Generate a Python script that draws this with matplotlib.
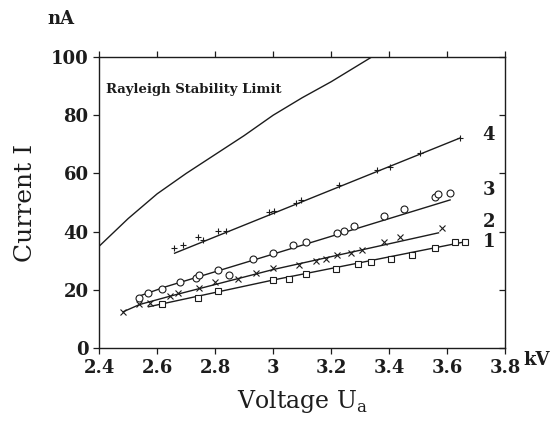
import matplotlib
matplotlib.use('Agg')
import matplotlib.pyplot as plt

plt.rcParams['font.family'] = 'DejaVu Serif'

# Rayleigh stability limit
ray_u = [2.4, 2.5, 2.6, 2.7, 2.8, 2.9, 3.0, 3.1, 3.2, 3.34]
ray_i = [35, 44.5, 53, 60, 66.5, 73, 80, 86, 91.5, 100]

# series 1 (squares)
s1_u = [2.615, 2.74, 2.809, 3.0, 3.055, 3.112, 3.215, 3.293, 3.339, 3.407, 3.478, 3.558, 3.627, 3.661]
s1_i = [15.0, 17.3, 19.7, 23.4, 23.9, 25.3, 27.3, 28.8, 29.7, 30.6, 32.0, 34.5, 36.5, 36.5]
fit1_u = [2.57, 3.0, 3.66]
fit1_i = [14.2, 23.4, 36.5]

# series 2 (crosses)
s2_u = [2.483, 2.538, 2.575, 2.644, 2.672, 2.746, 2.798, 2.878, 2.941, 3.0, 3.09, 3.147, 3.181, 3.221, 3.267, 3.307, 3.381, 3.438, 3.581]
s2_i = [12.5, 15.0, 15.4, 18.0, 18.8, 20.7, 22.6, 23.6, 25.7, 27.4, 28.5, 29.9, 30.6, 32.0, 32.7, 33.7, 36.5, 38.2, 41.1]
fit2_u = [2.483, 2.54, 2.65, 3.0, 3.57]
fit2_i = [12.5, 15.0, 18.0, 27.0, 39.6]

# series 3 (circles)
s3_u = [2.538, 2.569, 2.618, 2.678, 2.735, 2.745, 2.809, 2.849, 2.93, 3.0, 3.07, 3.112, 3.221, 3.244, 3.278, 3.381, 3.45, 3.558, 3.57, 3.61]
s3_i = [17.3, 18.8, 20.3, 22.6, 24.2, 25.0, 26.8, 25.1, 30.6, 32.8, 35.5, 36.5, 39.4, 40.3, 42.0, 45.5, 47.8, 52.0, 52.8, 53.2]
fit3_u = [2.53, 2.63, 3.0, 3.61]
fit3_i = [17.6, 21.1, 32.3, 50.9]

# series 4 (plus)
s4_u = [2.657, 2.689, 2.741, 2.758, 2.809, 2.838, 2.987, 3.004, 3.078, 3.095, 3.227, 3.358, 3.404, 3.507, 3.644]
s4_i = [34.3, 35.4, 38.3, 37.3, 40.2, 40.3, 46.8, 47.2, 49.7, 50.9, 56.0, 61.2, 62.3, 66.9, 72.1]
fit4_u = [2.66, 3.645]
fit4_i = [32.6, 72.2]

curve_labels = ['1', '2', '3', '4']
label_i = [36.4, 43.3, 54.3, 73.2]

fig = plt.figure(figsize=(5.57, 4.22), dpi=100)
ax = fig.add_axes([0.178, 0.175, 0.729, 0.69])

lc = '#1c1c1c'
ax.plot(ray_u, ray_i, color=lc, lw=1.0)
ax.plot(fit1_u, fit1_i, color=lc, lw=1.0)
ax.plot(fit2_u, fit2_i, color=lc, lw=1.0)
ax.plot(fit3_u, fit3_i, color=lc, lw=1.0)
ax.plot(fit4_u, fit4_i, color=lc, lw=1.0)

ax.plot(s1_u, s1_i, 's', ms=4.5, mfc='white', mec=lc, mew=0.8, ls='none')
ax.plot(s2_u, s2_i, 'x', ms=4.5, color=lc, mew=0.8, ls='none')
ax.plot(s3_u, s3_i, 'o', ms=5, mfc='white', mec=lc, mew=0.8, ls='none')
ax.plot(s4_u, s4_i, '+', ms=4, color=lc, mew=0.8, ls='none')

for lab, yi in zip(curve_labels, label_i):
    ax.text(3.765, yi, lab, fontsize=13, fontweight='bold', ha='right', va='center', color=lc)

ax.text(2.424, 88.7, 'Rayleigh Stability Limit', fontsize=9.5, fontweight='bold', va='center', color=lc)

ax.set_xlim(2.4, 3.8)
ax.set_ylim(0, 100)
ax.set_xticks([2.4, 2.6, 2.8, 3.0, 3.2, 3.4, 3.6, 3.8])
ax.set_xticklabels(['2.4', '2.6', '2.8', '3', '3.2', '3.4', '3.6', '3.8'])
ax.set_yticks([0, 20, 40, 60, 80, 100])
for t in ax.get_xticklabels() + ax.get_yticklabels():
    t.set_fontweight('bold')
ax.tick_params(axis='both', labelsize=13, length=4, width=0.9, color=lc, labelcolor=lc, direction='out')
ax.tick_params(axis='x', top=True)
ax.yaxis.set_ticks_position('both')
ax.tick_params(axis='y', which='both', right=True)
for t in ax.yaxis.get_major_ticks():
    t.tick2line.set_marker(0)  # right-side ticks point inward
for sp in ax.spines.values():
    sp.set_linewidth(1.0)
    sp.set_color(lc)

ax.set_ylabel('Current I', fontsize=18, color=lc, labelpad=10)
ax.set_xlabel('Voltage U$_\\mathregular{a}$', fontsize=17, color=lc, labelpad=8)

fig.text(0.085, 0.955, 'nA', fontsize=13, fontweight='bold', color=lc, va='center')
fig.text(0.94, 0.148, 'kV', fontsize=13, fontweight='bold', color=lc, va='center')

fig.savefig('out.png', dpi=100)
